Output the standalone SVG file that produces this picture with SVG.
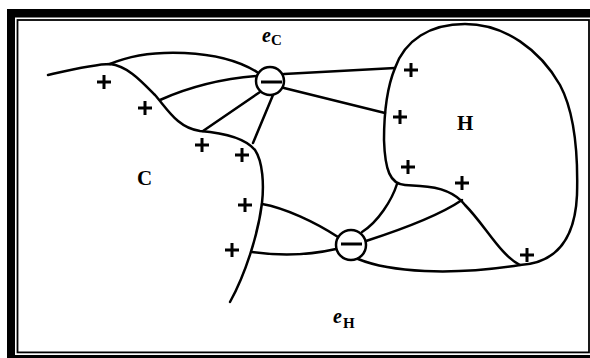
<svg xmlns="http://www.w3.org/2000/svg" width="590" height="358" viewBox="0 0 590 358">
<style>
.ln{fill:none;stroke:#000;stroke-width:2.5;stroke-linecap:round;stroke-linejoin:round}
.pl{fill:none;stroke:#000;stroke-width:3}
.lbl{font-family:"Liberation Serif",serif;font-weight:bold;fill:#000}
.it{font-style:italic}
</style>
<defs>
<path id="plus" d="M-7,0H7M0,-7V7" class="pl"/>
</defs>
<rect width="590" height="358" fill="#fff"/>
<g id="frame">
<rect x="7" y="9" width="583" height="8.5" fill="#000"/>
<rect x="7" y="9" width="8" height="349" fill="#000"/>
<rect x="7" y="355" width="583" height="3" fill="#000"/>
<rect x="17.5" y="20" width="571.5" height="332.4" fill="none" stroke="#000" stroke-width="1.8"/>
</g>
<g id="region-C">
<path class="ln" d="M48,75 C70,70 95,64 110,64 C128,66 142,82 155,95 C168,110 178,128 200,131 C225,133 245,138 255,150 C263,162 264,185 262,203 C258,235 245,275 230,302"/>
<text class="lbl" x="137" y="185" font-size="21">C</text>
</g>
<g id="region-H">
<path class="ln" d="M395,68 C405,40 430,24 465,24 C505,24 540,50 560,85 C576,115 578,160 577,195 C575,240 555,263 520,265 C500,255 485,225 465,205 C455,192 440,187 420,186 L405,185 C390,184 385,170 384,140 C384,110 388,85 395,68 Z"/>
<text class="lbl" x="457" y="130" font-size="21">H</text>
</g>
<g id="connectors">
<path class="ln" d="M110,64 C150,47 220,49 257,72"/>
<path class="ln" d="M160,100 Q205,80 257,76"/>
<path class="ln" d="M203,131 L260,92"/>
<path class="ln" d="M253,143 L273,95"/>
<path class="ln" d="M284,74 L395,68"/>
<path class="ln" d="M284,88 L385,113"/>
<path class="ln" d="M362,232 C378,222 392,200 397,184"/>
<path class="ln" d="M366,241 C400,230 440,215 462,200"/>
<path class="ln" d="M358,259 C390,272 450,276 520,265"/>
<path class="ln" d="M262,204 C285,208 315,222 338,237"/>
<path class="ln" d="M252,252 C280,256 310,255 336,249"/>
</g>
<g id="eC">
<circle class="ln" cx="270" cy="81" r="14"/>
<path d="M261,82H282" class="pl"/>
<text class="lbl it" x="262" y="42" font-size="20">e</text>
<text class="lbl" x="271" y="45" font-size="15">C</text>
</g>
<g id="eH">
<circle class="ln" cx="351" cy="245" r="15"/>
<path d="M341,244H362" class="pl"/>
<text class="lbl it" x="333" y="323" font-size="20">e</text>
<text class="lbl" x="343" y="328" font-size="15">H</text>
</g>
<g id="charges">
<use href="#plus" x="104" y="82"/>
<use href="#plus" x="145" y="108"/>
<use href="#plus" x="202" y="145"/>
<use href="#plus" x="242" y="155"/>
<use href="#plus" x="245" y="205"/>
<use href="#plus" x="232" y="250"/>
<use href="#plus" x="411" y="70"/>
<use href="#plus" x="400" y="117"/>
<use href="#plus" x="408" y="167"/>
<use href="#plus" x="462" y="183"/>
<use href="#plus" x="527" y="255"/>
</g>
</svg>
